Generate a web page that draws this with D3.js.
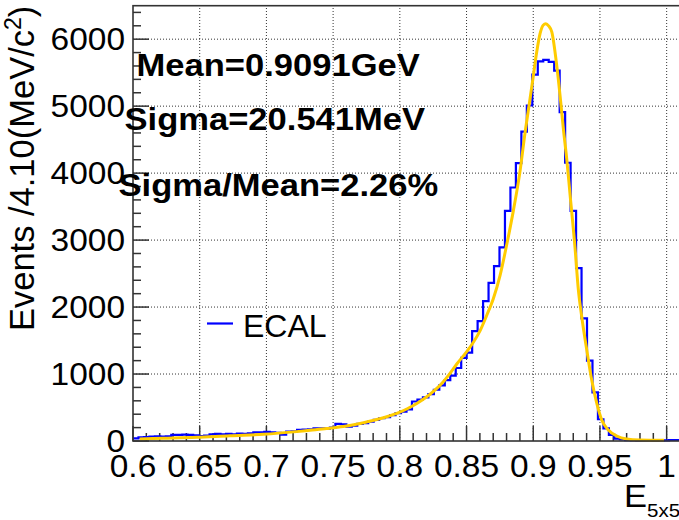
<!DOCTYPE html>
<html>
<head>
<meta charset="utf-8">
<script src="https://cdn.jsdelivr.net/npm/d3@7"></script>
<style>
  html, body { margin: 0; padding: 0; background: #fff; }
  svg { display: block; }
  text { font-family: "Liberation Sans", Arial, Helvetica, sans-serif; fill: #000; }
</style>
</head>
<body>
<script>
// ---------------- data ----------------
const xMin = 0.6;
const xMax = 1.01;
const binWidth = 0.0041;
const counts = [
  40, 55, 60, 65, 70, 65, 70, 90, 90, 95,
  90, 85, 75, 80, 100, 105, 100, 105, 100, 110,
  105, 115, 130, 130, 135, 130, 120, 95, 140, 145,
  165, 170, 175, 190, 190, 185, 200, 255, 250, 215,
  230, 255, 265, 290, 315, 340, 355, 385, 415, 440,
  470, 590, 620, 650, 700, 765, 830, 910, 975, 1090,
  1240, 1320, 1640, 1790, 2090, 2360, 2610, 2890, 3435, 3785,
  4150, 4620, 5010, 5470, 5670, 5690, 5660, 5530, 4910, 4155,
  3435, 2580, 1830, 1200, 725, 325, 190, 90, 35, 25,
  12, 8, 5, 5, 5, 3, 5, 8, 15, 15
];
const fitX = [0.605, 0.6227, 0.6477, 0.6727, 0.6977, 0.7227, 0.7327, 0.7452, 0.7576, 0.7702,
  0.7827, 0.7902, 0.7977, 0.8052, 0.8127, 0.8202, 0.8277, 0.8326, 0.8376, 0.8427,
  0.85, 0.855, 0.86, 0.865, 0.87, 0.8751, 0.8801, 0.8851, 0.8901, 0.8939,
  0.8976, 0.9001, 0.9026, 0.9051, 0.9075, 0.9094, 0.9115, 0.9139, 0.9176, 0.9201,
  0.9226, 0.9251, 0.9276, 0.9313, 0.9338, 0.9363, 0.9401, 0.9438, 0.9476, 0.9513,
  0.9563, 0.9626, 0.97, 0.98, 0.998];
const fitY = [30, 40, 55, 80, 100, 140, 160, 185, 215, 262,
  322, 362, 412, 478, 560, 660, 785, 885, 1010, 1150,
  1330, 1470, 1640, 1870, 2120, 2470, 2930, 3440, 4030, 4610,
  5110, 5458, 5808, 6082, 6210, 6232, 6200, 6108, 5608, 5158,
  4659, 4210, 3680, 2890, 2262, 1862, 1363, 914, 565, 315,
  165, 75, 30, 15, 10];
const xTicks = [0.6, 0.65, 0.7, 0.75, 0.8, 0.85, 0.9, 0.95, 1];
const xTickLabels = ["0.6", "0.65", "0.7", "0.75", "0.8", "0.85", "0.9", "0.95", "1"];
const yTicks = [0, 1000, 2000, 3000, 4000, 5000, 6000];
const yMax = 6500;
const statLines = ["Mean=0.9091GeV", "Sigma=20.541MeV", "Sigma/Mean=2.26%"];
const legendLabel = "ECAL";

// ---------------- layout ----------------
const W = 679, H = 520;
const L = 133, R = 680, T = 5.7, B = 441;
const sx = 1.08;

const svg = d3.select("body").append("svg").attr("width", W).attr("height", H);

const x = d3.scaleLinear().domain([xMin, xMax]).range([L, R]);
const y = d3.scaleLinear().domain([0, yMax]).range([B, T]);

// grid
const grid = svg.append("g").attr("stroke", "#333").attr("stroke-width", 1)
  .attr("stroke-dasharray", "1,2").attr("fill", "none");
xTicks.filter(d => d > xMin).forEach(d => {
  grid.append("line").attr("x1", x(d)).attr("x2", x(d)).attr("y1", B).attr("y2", T);
});
yTicks.filter(d => d > 0).forEach(d => {
  grid.append("line").attr("x1", L).attr("x2", R).attr("y1", y(d)).attr("y2", y(d));
});

// ticks
const tk = svg.append("g").attr("stroke", "#333").attr("stroke-width", 1.5);
d3.range(0, 6401, 200).forEach(v => {
  const major = v % 1000 === 0;
  tk.append("line").attr("x1", L).attr("x2", L + (major ? 16 : 8)).attr("y1", y(v)).attr("y2", y(v));
});
d3.range(0, 42).forEach(i => {
  const v = xMin + i * 0.01;
  const major = i % 5 === 0;
  tk.append("line").attr("x1", x(v)).attr("x2", x(v)).attr("y1", B).attr("y2", B - (major ? 15 : 8));
});

// histogram
const edges = counts.map((c, i) => [xMin + i * binWidth, c]);
edges.push([xMax, counts[counts.length - 1]]);
svg.append("path")
  .attr("d", d3.line().x(d => x(d[0])).y(d => y(d[1])).curve(d3.curveStepAfter)(edges))
  .attr("fill", "none").attr("stroke", "#0000ff").attr("stroke-width", 2.2);

// fit
const fitPts = fitX.map((v, i) => [v, fitY[i]]);
svg.append("path")
  .attr("d", d3.line().x(d => x(d[0])).y(d => y(d[1])).curve(d3.curveMonotoneX)(fitPts))
  .attr("fill", "none").attr("stroke", "#ffcc00").attr("stroke-width", 3);

// frame
svg.append("rect").attr("x", L).attr("y", T).attr("width", R - L).attr("height", B - T)
  .attr("fill", "none").attr("stroke", "#333").attr("stroke-width", 1.6);

// tick labels
xTicks.forEach((d, i) => {
  svg.append("text")
    .attr("transform", `translate(${x(d)},${477}) scale(${sx},1)`)
    .attr("text-anchor", "middle").attr("font-size", 31).text(xTickLabels[i]);
});
yTicks.forEach(d => {
  svg.append("text")
    .attr("transform", `translate(125,${y(d) + 11}) scale(${sx},1)`)
    .attr("text-anchor", "end").attr("font-size", 31).text(d3.format("d")(d));
});

// y title
const yt = svg.append("text")
  .attr("transform", `translate(34,${T}) rotate(-90)`)
  .attr("text-anchor", "end").attr("font-size", 34.5);
yt.append("tspan").text("Events /4.10(MeV/c");
yt.append("tspan").attr("font-size", 23).attr("dy", -13).text("2");
yt.append("tspan").attr("dy", 13).text(")");

// x title
const xt = svg.append("text")
  .attr("transform", `translate(624,507) scale(${sx},1)`)
  .attr("font-size", 32);
xt.append("tspan").text("E");
xt.append("tspan").attr("font-size", 19).attr("dy", 10).text("5x5");

// stats text
const statPos = [[136.5, 76], [124.5, 130], [118.5, 196]];
statLines.forEach((s, i) => {
  svg.append("text")
    .attr("transform", `translate(${statPos[i][0]},${statPos[i][1]}) scale(${sx},1)`)
    .attr("font-size", 32).attr("font-weight", "bold").text(s);
});

// legend
svg.append("line").attr("x1", 207).attr("x2", 233).attr("y1", 323.5).attr("y2", 323.5)
  .attr("stroke", "#0000ff").attr("stroke-width", 2.2);
svg.append("text")
  .attr("transform", `translate(243,337) scale(1.0,1)`)
  .attr("font-size", 32).text(legendLabel);
</script>
</body>
</html>
